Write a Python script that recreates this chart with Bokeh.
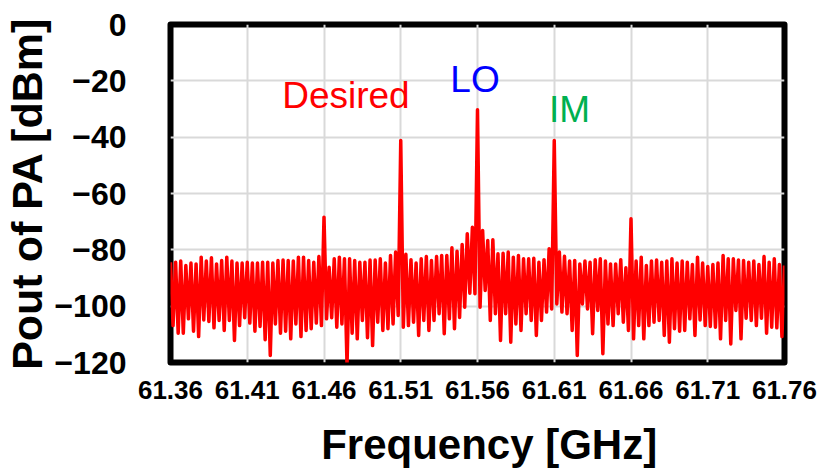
import numpy as np
from bokeh.plotting import figure
from bokeh.models import ColumnDataSource, FixedTicker, Range1d
from bokeh.core.properties import value
from bokeh.embed import file_html
from bokeh.resources import INLINE

# ---- data ----
freq_start_ghz = 61.36
freq_stop_ghz = 61.76
pout_dbm = [
    -84.4, -106.9, -84.4, -109.6, -84.0, -109.6, -85.6, -104.5, -84.7, -108.9,
    -85.0, -110.8, -82.6, -104.9, -84.0, -105.4, -82.8, -107.7, -85.0, -105.1,
    -83.8, -108.6, -82.6, -105.1, -84.0, -112.2, -84.7, -106.9, -84.7, -104.1,
    -84.4, -106.0, -84.7, -108.9, -84.7, -107.2, -84.4, -111.9, -84.4, -117.5,
    -84.7, -106.3, -83.8, -109.6, -83.6, -108.9, -83.8, -111.6, -84.0, -106.3,
    -82.6, -110.8, -82.6, -108.6, -83.8, -108.0, -84.4, -106.0, -82.4, -106.9,
    -68.4, -104.5, -86.2, -104.1, -83.2, -107.5, -82.6, -106.3, -83.2, -121.0,
    -83.2, -109.6, -83.8, -111.6, -84.4, -105.1, -84.4, -111.2, -83.6, -114.0,
    -83.6, -105.7, -83.2, -108.6, -84.7, -108.0, -82.0, -106.3, -80.8, -103.3,
    -41.2, -107.5, -81.6, -106.9, -83.5, -105.7, -84.7, -110.4, -83.2, -105.1,
    -82.4, -108.6, -83.8, -105.1, -82.4, -102.7, -82.0, -109.8, -82.0, -104.5,
    -79.3, -108.0, -80.5, -104.0, -78.1, -100.4, -74.3, -95.4, -72.0, -95.6,
    -30.3, -100.4, -73.1, -94.4, -76.7, -105.1, -76.4, -102.7, -81.4, -112.2,
    -81.2, -102.7, -80.8, -112.8, -82.6, -106.3, -82.0, -108.6, -83.2, -102.7,
    -83.2, -105.1, -83.0, -110.4, -84.4, -105.1, -83.5, -102.1, -79.6, -101.0,
    -41.2, -99.2, -80.8, -102.1, -82.3, -102.7, -84.0, -108.6, -83.8, -117.5,
    -85.0, -99.2, -84.0, -101.0, -84.4, -109.8, -83.5, -101.5, -83.2, -116.9,
    -84.0, -106.3, -85.0, -106.9, -85.0, -102.7, -83.5, -105.7, -86.4, -108.6,
    -69.0, -111.6, -84.0, -106.9, -82.6, -111.6, -85.6, -106.9, -84.0, -105.7,
    -83.6, -105.1, -84.4, -110.4, -84.0, -112.8, -83.2, -108.0, -84.7, -108.9,
    -84.0, -108.6, -84.4, -104.5, -85.2, -110.4, -82.6, -104.9, -84.7, -106.9,
    -85.9, -107.2, -85.2, -107.5, -84.7, -111.6, -82.0, -105.1, -83.2, -113.4,
    -83.2, -101.5, -83.6, -111.6, -83.8, -104.3, -84.4, -105.1, -84.0, -106.9,
    -85.2, -104.3, -82.4, -109.6, -84.4, -107.5, -83.2, -107.7, -85.2, -110.8,
    -85.6,
]
freq_ticks = [61.36, 61.41, 61.46, 61.51, 61.56, 61.61, 61.66, 61.71, 61.76]
freq_tick_labels = ["61.36", "61.41", "61.46", "61.51", "61.56", "61.61", "61.66", "61.71", "61.76"]
pout_ticks = [-120, -100, -80, -60, -40, -20, 0]

label_texts = ["Desired", "LO", "IM"]
label_colors = ["#FF0000", "#0000FF", "#00B050"]
label_freqs = [61.4743, 61.5584, 61.6200]
label_levels = [-25.2, -19.5, -30.1]

# two no-break spaces nudge the centred title to the right, as in the reference
x_title = "\u00a0\u00a0Frequency [GHz]"
y_title = "Pout of PA [dBm]"

freq_ghz = np.linspace(freq_start_ghz, freq_stop_ghz, len(pout_dbm))

FONT = "Liberation Sans"

p = figure(width=817, height=473, output_backend="svg", toolbar_location=None,
           x_range=Range1d(freq_start_ghz, freq_stop_ghz), y_range=Range1d(-120, 0),
           min_border_left=170, min_border_right=33, min_border_top=24, min_border_bottom=111)
p.background_fill_color = "white"
p.border_fill_color = "white"
p.outline_line_color = "black"
p.outline_line_width = 6
p.outline_line_join = "round"

src = ColumnDataSource(dict(f=freq_ghz, p=pout_dbm))
p.line("f", "p", source=src, line_color="#FF0000", line_width=3.5, line_join="round")

lab = ColumnDataSource(dict(x=label_freqs, y=label_levels, t=label_texts, c=label_colors))
p.text("x", "y", text="t", source=lab, text_color="c", text_font=value(FONT),
       text_font_size="37px", text_align="center", text_baseline="alphabetic")

# grid
p.xgrid.ticker = FixedTicker(ticks=freq_ticks)
p.ygrid.ticker = FixedTicker(ticks=pout_ticks)
for g in (p.xgrid[0], p.ygrid[0]):
    g.grid_line_color = "#D9D9D9"
    g.grid_line_width = 2

# axes
xa = p.xaxis[0]
xa.ticker = FixedTicker(ticks=freq_ticks)
xa.major_label_overrides = {t: l for t, l in zip(freq_ticks, freq_tick_labels)}
xa.axis_label = x_title
ya = p.yaxis[0]
ya.ticker = FixedTicker(ticks=pout_ticks)
ya.axis_label = y_title
for ax in (xa, ya):
    ax.axis_line_color = None
    ax.major_tick_line_color = None
    ax.minor_tick_line_color = None
    ax.major_tick_out = 0
    ax.major_tick_in = 0
    ax.minor_tick_out = 0
    ax.minor_tick_in = 0
    ax.major_label_text_font = FONT
    ax.major_label_text_font_style = "bold"
    ax.major_label_text_color = "black"
    ax.axis_label_text_font = FONT
    ax.axis_label_text_font_style = "bold"
    ax.axis_label_text_color = "black"
xa.axis_label_text_font_size = "42px"
ya.axis_label_text_font_size = "43px"
xa.major_label_text_font_size = "26px"
xa.major_label_standoff = 18
xa.axis_label_standoff = 19
ya.major_label_text_font_size = "32px"
ya.major_label_standoff = 44
ya.axis_label_standoff = 0

open("out.html", "w").write(file_html(p, INLINE))
